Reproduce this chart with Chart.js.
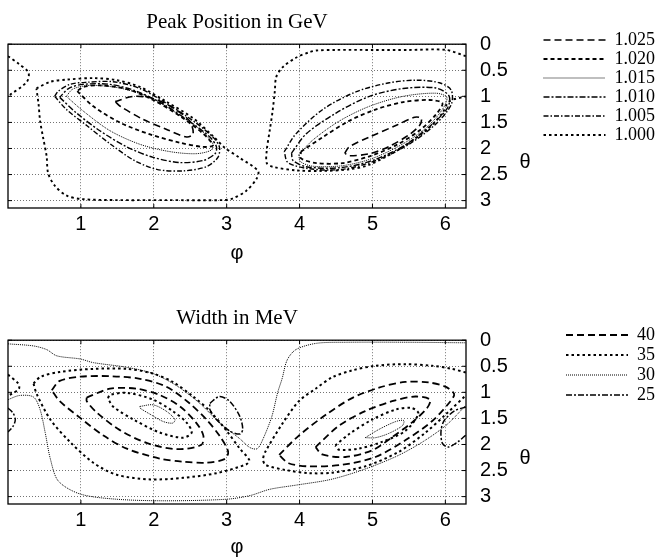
<!DOCTYPE html>
<html><head><meta charset="utf-8">
<script src="https://cdn.jsdelivr.net/npm/chart.js@4.4.1/dist/chart.umd.min.js"></script>
<style>
html,body{margin:0;padding:0;background:#fff;width:661px;height:559px;overflow:hidden}
.box{position:absolute;left:0;width:661px}
</style></head><body>
<div class="box" style="top:0;height:265px"><canvas id="c1" width="661" height="265"></canvas></div>
<div class="box" style="top:296px;height:263px"><canvas id="c2" width="661" height="263"></canvas></div>
<script>
// ---- ticks / labels ----
const phiTicks = [1, 2, 3, 4, 5, 6];
const thetaTicks = [0, 0.5, 1, 1.5, 2, 2.5, 3];
const peakLevels = ['1.025', '1.020', '1.015', '1.010', '1.005', '1.000'];
const widthLevels = ['40', '35', '30', '25'];

// ---- Peak position contours: [phi, theta] ----
const peak1025Left = [[1.47,1.10],[1.72,1.00],[1.99,1.04],[2.26,1.22],[2.49,1.47],[2.54,1.72],[2.45,1.78],[2.17,1.63],[1.85,1.44],[1.54,1.19],[1.47,1.10]];
const peak1025Right = [[4.62,2.09],[4.68,1.97],[4.96,1.78],[5.32,1.56],[5.58,1.40],[5.67,1.42],[5.65,1.55],[5.51,1.73],[5.23,1.96],[4.96,2.10],[4.68,2.14],[4.62,2.09]];
const peak1020Left = [[0.95,0.90],[1.17,1.19],[1.53,1.50],[1.95,1.73],[2.36,1.89],[2.68,1.97],[2.81,1.94],[2.68,1.72],[2.36,1.38],[1.99,1.07],[1.63,0.86],[1.26,0.79],[1.03,0.82],[0.95,0.90]];
const peak1020Right = [[4.02,2.06],[4.32,1.78],[4.68,1.47],[5.05,1.25],[5.42,1.11],[5.78,1.07],[5.96,1.13],[5.87,1.35],[5.64,1.66],[5.32,1.94],[4.96,2.15],[4.59,2.28],[4.23,2.28],[4.02,2.19],[4.02,2.06]];
const peak1015Left = [[0.80,1.00],[1.03,1.28],[1.40,1.66],[1.81,1.92],[2.22,2.06],[2.58,2.10],[2.79,2.03],[2.81,1.91],[2.63,1.63],[2.31,1.32],[1.95,1.02],[1.53,0.84],[1.12,0.79],[0.89,0.86],[0.80,1.00]];
const peak1015Right = [[3.99,2.12],[4.18,1.84],[4.55,1.47],[4.96,1.19],[5.42,1.00],[5.87,0.94],[6.02,1.02],[5.96,1.25],[5.74,1.60],[5.42,1.91],[5.00,2.19],[4.59,2.33],[4.18,2.34],[4.01,2.25],[3.99,2.12]];
const peak1010Left = [[0.71,1.02],[0.94,1.32],[1.26,1.66],[1.63,1.97],[1.99,2.17],[2.36,2.27],[2.68,2.23],[2.84,2.10],[2.86,1.97],[2.77,1.78],[2.49,1.48],[2.13,1.15],[1.76,0.90],[1.40,0.77],[1.03,0.77],[0.83,0.85],[0.71,1.02]];
const peak1010Right = [[3.89,2.09],[4.09,1.72],[4.50,1.32],[4.96,1.00],[5.42,0.85],[5.87,0.84],[6.05,0.99],[6.03,1.22],[5.80,1.56],[5.44,1.94],[5.00,2.23],[4.55,2.37],[4.09,2.35],[3.91,2.23],[3.89,2.09]];
const peak1005Left = [[0.64,1.00],[0.80,1.25],[1.08,1.56],[1.40,1.91],[1.72,2.22],[2.04,2.40],[2.40,2.43],[2.72,2.35],[2.88,2.17],[2.90,1.97],[2.81,1.78],[2.54,1.47],[2.17,1.13],[1.81,0.85],[1.44,0.72],[1.08,0.73],[0.85,0.77],[0.69,0.90],[0.64,1.00]];
const peak1005Right = [[3.79,2.06],[3.95,1.72],[4.32,1.25],[4.78,0.91],[5.23,0.74],[5.60,0.69],[5.92,0.74],[6.08,0.88],[6.08,1.16],[5.87,1.53],[5.51,1.91],[5.05,2.23],[4.59,2.40],[4.14,2.39],[3.84,2.27],[3.79,2.06]];
const peak1000Left = [[0.39,0.85],[0.58,0.72],[0.80,0.68],[1.17,0.65],[1.49,0.69],[1.81,0.82],[2.17,1.10],[2.54,1.42],[2.81,1.76],[2.97,1.98],[3.18,2.18],[3.43,2.43],[3.41,2.58],[3.27,2.81],[3.08,2.96],[2.95,2.99],[2.17,2.99],[1.49,2.99],[1.01,2.97],[0.80,2.90],[0.64,2.71],[0.55,2.47],[0.53,2.15],[0.48,1.78],[0.44,1.47],[0.42,1.16],[0.39,0.85]];
const peak1000Right = [[6.28,0.23],[6.01,0.11],[5.50,0.11],[5.00,0.11],[4.50,0.11],[4.23,0.12],[4.14,0.15],[3.95,0.26],[3.77,0.44],[3.68,0.63],[3.66,0.91],[3.63,1.28],[3.59,1.66],[3.55,2.03],[3.55,2.28],[3.63,2.35],[3.95,2.42],[4.32,2.43],[4.68,2.40],[4.96,2.31],[5.42,1.97],[5.78,1.60],[5.96,1.32],[6.05,1.10],[6.28,1.00]];
const peak1000Edge = [[0,0.23],[0.15,0.38],[0.28,0.54],[0.26,0.72],[0.03,0.97],[0,1.00]];

// ---- Width contours: [phi, theta] ----
const width40L2 = [[0.60,0.96],[0.71,0.78],[0.99,0.70],[1.40,0.69],[1.81,0.74],[2.17,0.89],[2.49,1.21],[2.72,1.52],[2.90,1.83],[3.02,2.14],[2.97,2.28],[2.72,2.35],[2.40,2.33],[2.08,2.27],[1.63,2.08],[1.31,1.83],[0.99,1.49],[0.71,1.17],[0.60,0.96]];
const width40L3 = [[1.08,1.10],[1.40,0.93],[1.76,0.93],[2.08,1.05],[2.36,1.27],[2.58,1.58],[2.68,1.83],[2.65,2.01],[2.31,2.09],[1.90,1.97],[1.53,1.72],[1.22,1.39],[1.08,1.17],[1.08,1.10]];
const width40R2 = [[3.72,2.20],[3.99,1.83],[4.36,1.43],[4.72,1.11],[5.09,0.91],[5.45,0.80],[5.77,0.81],[6.00,0.89],[6.12,1.03],[6.07,1.17],[5.82,1.55],[5.45,1.92],[5.04,2.24],[4.58,2.39],[4.13,2.42],[3.85,2.36],[3.72,2.20]];
const width40R3 = [[4.22,2.05],[4.54,1.64],[4.90,1.36],[5.27,1.17],[5.59,1.08],[5.79,1.14],[5.75,1.30],[5.54,1.58],[5.27,1.86],[5.00,2.11],[4.63,2.24],[4.31,2.19],[4.22,2.05]];
const width35L1 = [[0.35,0.83],[0.45,0.70],[0.71,0.61],[1.17,0.55],[1.63,0.55],[1.99,0.64],[2.26,0.80],[2.54,1.08],[2.77,1.36],[3.00,1.74],[3.18,2.08],[3.31,2.30],[3.27,2.38],[2.86,2.55],[2.40,2.64],[1.95,2.67],[1.49,2.58],[1.17,2.35],[0.85,1.95],[0.58,1.52],[0.39,1.02],[0.35,0.83]];
const width35L4 = [[1.37,1.11],[1.40,1.05],[1.63,1.01],[1.99,1.14],[2.26,1.36],[2.45,1.58],[2.52,1.77],[2.40,1.87],[2.08,1.77],[1.72,1.52],[1.44,1.27],[1.37,1.11]];
const width35R1 = [[6.28,0.62],[6.09,0.55],[5.82,0.49],[5.45,0.46],[5.04,0.49],[4.72,0.58],[4.45,0.71],[4.22,0.93],[3.99,1.17],[3.76,1.61],[3.53,2.14],[3.50,2.28],[3.53,2.39],[3.81,2.49],[4.13,2.55],[4.45,2.54],[4.90,2.42],[5.36,2.14],[5.73,1.77],[6.00,1.43],[6.28,1.06]];
const width35Edge = [[0,0.66],[0.14,0.83],[0.15,0.93],[0.05,1.03],[0,1.06]];
const width35R4 = [[4.49,2.02],[4.68,1.80],[5.00,1.52],[5.32,1.33],[5.54,1.30],[5.63,1.41],[5.45,1.74],[5.13,1.95],[4.81,2.08],[4.54,2.10],[4.49,2.02]];
const width30Top = [[0,0.07],[0.35,0.11],[0.53,0.18],[0.67,0.30],[0.99,0.36],[1.17,0.43],[1.63,0.52],[1.99,0.64],[2.31,0.87],[2.63,1.21],[2.90,1.58],[3.18,1.89],[3.32,2.06],[3.42,2.08],[3.50,1.89],[3.62,1.46],[3.70,1.00],[3.76,0.74],[3.83,0.38],[3.95,0.18],[4.23,0.06],[4.64,0.04],[5.50,0.04],[6.28,0.05]];
const width30Low = [[0,1.14],[0.16,1.06],[0.35,1.09],[0.44,1.33],[0.51,1.77],[0.58,2.27],[0.69,2.70],[0.99,2.95],[1.49,3.05],[2.17,3.08],[3.00,3.05],[3.32,2.98],[3.59,2.86],[3.95,2.78],[4.43,2.67],[4.88,2.48],[5.34,2.22],[5.70,1.94],[6.02,1.62],[6.28,1.25]];
const width30L5 = [[1.81,1.27],[1.99,1.24],[2.17,1.36],[2.29,1.52],[2.26,1.59],[2.13,1.56],[1.95,1.42],[1.81,1.30],[1.81,1.27]];
const width30R5 = [[4.90,1.87],[5.09,1.71],[5.32,1.56],[5.43,1.54],[5.41,1.64],[5.22,1.79],[5.04,1.87],[4.90,1.87]];
const width25L6 = [[2.77,1.21],[2.90,1.08],[3.04,1.17],[3.18,1.46],[3.22,1.71],[3.18,1.80],[3.04,1.74],[2.86,1.52],[2.77,1.33],[2.77,1.21]];
const width25R6 = [[6.28,1.28],[6.12,1.36],[5.98,1.55],[5.94,1.75],[5.96,1.98],[6.04,2.05],[6.17,1.95],[6.28,1.82]];
const width25Edge = [[0,1.30],[0.07,1.40],[0.10,1.52],[0.07,1.65],[0,1.76]];

// ---- grouping and styles ----
const peakLoops = [
  [peak1025Left, peak1025Right],
  [peak1020Left, peak1020Right],
  [peak1015Left, peak1015Right],
  [peak1010Left, peak1010Right],
  [peak1005Left, peak1005Right],
  [peak1000Left, peak1000Right, peak1000Edge]
];
const peakDash = [[7,4],[4,3],[1,1],[6,2,2,2],[5,2,1.5,2],[2.5,3]];
const peakWidth = [1.6,1.8,1,1.4,1.4,1.9];

const widthLoops = [
  [width40L2, width40L3, width40R2, width40R3],
  [width35L1, width35L4, width35R1, width35Edge, width35R4],
  [width30Top, width30Low, width30L5, width30R5],
  [width25L6, width25R6, width25Edge]
];
const widthDash = [[7,4],[2.5,3],[1,1],[6,2,2,2]];
const widthWidth = [1.8,2,1,1.5];

function joinLoops(loops) {
  const out = [];
  loops.forEach((l, i) => {
    if (i) out.push({x: null, y: null});
    l.forEach(p => out.push({x: p[0], y: p[1]}));
  });
  return out;
}
function makeDatasets(levels, loops, dashes, widths) {
  return levels.map((lab, i) => ({
    label: lab,
    data: joinLoops(loops[i]),
    showLine: true,
    borderColor: '#000',
    backgroundColor: 'rgba(0,0,0,0)',
    borderDash: dashes[i],
    borderWidth: widths[i],
    pointRadius: 0,
    pointHoverRadius: 0,
    tension: 0.3,
    spanGaps: false,
    fill: false
  }));
}
function legendItems(chart) {
  return chart.data.datasets.map((d, i) => ({
    text: d.label,
    fillStyle: 'rgba(0,0,0,0)',
    strokeStyle: '#000',
    lineWidth: d.borderWidth,
    lineDash: d.borderDash,
    lineCap: 'butt',
    pointStyle: 'line',
    fontColor: '#000',
    hidden: false,
    datasetIndex: i
  }));
}

const framePlugin = {
  id: 'frame',
  afterDatasetsDraw(chart) {
    const {ctx, chartArea: a, scales: {x, y}} = chart;
    ctx.save();
    ctx.setLineDash([]);
    ctx.strokeStyle = '#000';
    ctx.lineWidth = 1.3;
    ctx.strokeRect(a.left, a.top, a.right - a.left, a.bottom - a.top);
    ctx.lineWidth = 1;
    ctx.beginPath();
    phiTicks.forEach(v => {
      const px = x.getPixelForValue(v);
      ctx.moveTo(px, a.bottom); ctx.lineTo(px, a.bottom - 4);
      ctx.moveTo(px, a.top); ctx.lineTo(px, a.top + 4);
    });
    thetaTicks.forEach(v => {
      const py = y.getPixelForValue(v);
      ctx.moveTo(a.right, py); ctx.lineTo(a.right - 4, py);
      ctx.moveTo(a.left, py); ctx.lineTo(a.left + 4, py);
    });
    ctx.stroke();
    ctx.fillStyle = '#000';
    ctx.font = '20px "Liberation Sans"';
    ctx.textAlign = 'center';
    ctx.textBaseline = 'middle';
    ctx.fillText('θ', a.right + 59, a.top + 118);
    ctx.restore();
  }
};

function makeOptions(titleText, legendPad, legendTitlePad, canvasH) {
  return {
    responsive: false, animation: false, devicePixelRatio: 1, events: [],
    layout: {padding: {left: 8, right: -4, top: 0, bottom: 0}},
    plugins: {
      title: {display: true, text: titleText, fullSize: false, color: '#000',
        font: {family: '"Liberation Serif"', size: 21, weight: 'normal'},
        padding: {top: 10, bottom: 9}},
      legend: {display: true, position: 'right', align: 'start',
        title: {display: true, text: ' ', font: {size: 10}, padding: {top: legendTitlePad, bottom: 0}},
        labels: {usePointStyle: true, pointStyle: 'line', pointStyleWidth: 62, color: '#000',
          font: {family: '"Liberation Serif"', size: 18}, padding: legendPad,
          generateLabels: legendItems}},
      tooltip: {enabled: false}
    },
    scales: {
      x: {type: 'linear', position: 'bottom', min: 0, max: 2 * Math.PI,
        afterBuildTicks: s => { s.ticks = phiTicks.map(v => ({value: v})); },
        afterFit: s => { s.height = canvasH - 208; },
        ticks: {autoSkip: false, maxRotation: 0, padding: 4, color: '#000',
          font: {family: '"Liberation Sans"', size: 20}, callback: v => String(v)},
        grid: {drawTicks: false, color: 'rgba(0,0,0,0.55)', lineWidth: 1},
        border: {display: false, dash: [1, 2]},
        title: {display: true, text: 'φ', color: '#000',
          font: {family: '"Liberation Sans"', size: 20}, padding: {top: 0, bottom: 0}}},
      y: {type: 'linear', position: 'right', reverse: true, min: 0, max: Math.PI,
        afterBuildTicks: s => { s.ticks = thetaTicks.map(v => ({value: v})); },
        afterFit: s => { s.width = 661 + 4 - s.chart.legend.width - 466; },
        ticks: {padding: 14, color: '#000', font: {family: '"Liberation Sans"', size: 20},
          callback: v => String(v)},
        grid: {drawTicks: false, color: 'rgba(0,0,0,0.55)', lineWidth: 1},
        border: {display: false, dash: [1, 2]}}
    }
  };
}

new Chart(document.getElementById('c1'), {
  type: 'scatter',
  data: {datasets: makeDatasets(peakLevels, peakLoops, peakDash, peakWidth)},
  options: makeOptions('Peak Position in GeV', 1, 18, 265),
  plugins: [framePlugin]
});
new Chart(document.getElementById('c2'), {
  type: 'scatter',
  data: {datasets: makeDatasets(widthLevels, widthLoops, widthDash, widthWidth)},
  options: makeOptions('Width in MeV', 2, 16, 263),
  plugins: [framePlugin]
});
</script></body></html>
